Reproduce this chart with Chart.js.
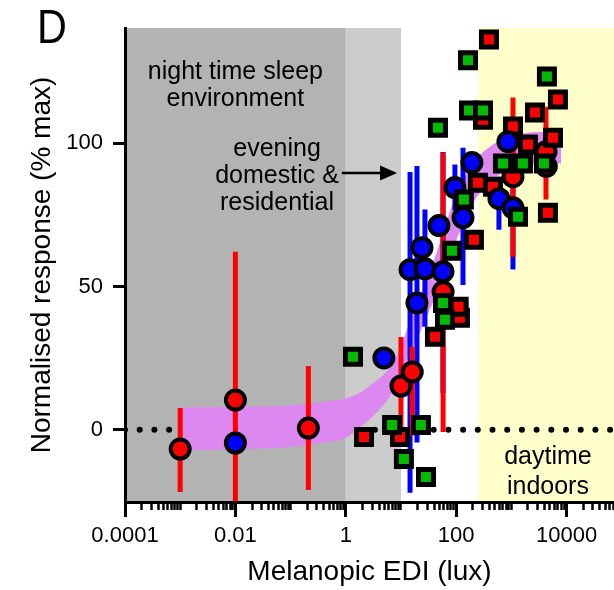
<!DOCTYPE html>
<html>
<head>
<meta charset="utf-8">
<script src="https://cdn.jsdelivr.net/npm/chart.js@4/dist/chart.umd.min.js"></script>
<style>
  html, body { margin: 0; padding: 0; background: #fff; }
  #wrap { width: 614px; height: 590px; }
</style>
</head>
<body>
<div id="wrap"><canvas id="chart" width="614" height="590"></canvas></div>
<script>
// ---- axes ----
const xTickValues = [1e-4, 1e-2, 1, 1e2, 1e4];
const xTickLabels = ['0.0001', '0.01', '1', '100', '10000'];
const xDecades = [-4, -3, -2, -1, 0, 1, 2, 3, 4];
const xMinorSteps = [1, 2, 3, 4, 5, 6, 7, 8, 9];
const yTickValues = [0, 50, 100];
const xRange = [1e-4, 72400];
const yRange = [-25.2, 140.3];

// ---- lighting environments (lux) ----
const envStart = [1e-4, 1, 250];
const envEnd = [1, 10, 72400];
const envLabels = [
  ['night time sleep', 'environment'],
  ['evening', 'domestic &', 'residential'],
  ['daytime', 'indoors']
];

// ---- fitted response with confidence band ----
const bandX     = [0.001, 0.01, 0.1, 0.3, 1, 2, 3, 5, 7, 10, 15, 20, 30, 50, 70, 100, 200, 500, 1000, 3000, 8000];
const bandUpper = [7.8, 8.0, 8.5, 9.5, 11, 13.5, 16, 19.5, 23, 29, 39, 45, 53, 65, 74, 82, 93, 100, 102.5, 104, 104];
const bandLower = [-7.2, -6.8, -6, -4.8, -2.8, 1.5, 4.5, 9, 13, 19.7, 27, 32, 40, 50, 58, 66, 79, 88, 91, 93, 93];

// ---- studies: circles with error bars ----
const redCircleX  = [0.001, 0.01, 0.21, 10, 16, 58, 1070, 4240, 4300];
const redCircleY  = [-6.7, 10.4, 0.6, 15.3, 20.2, 48.2, 88.4, 97.1, 92];
const redCircleLo = [-21.7, -25, -21, 0.6, -2, -0.8, 60.4, 80.4, null];
const redCircleHi = [7.6, 62.2, 22.3, 32.4, 29, 96.8, 116, 112.8, null];

const blueCircleX  = [0.01, 4.9, 14.6, 19.5, 24, 27.2, 48.8, 57.7, 95, 133, 193, 596, 867, 1070];
const blueCircleY  = [-4.6, 25.1, 55.9, 44.3, 63.6, 56.2, 71.3, 55.2, 84.6, 74.1, 93.3, 80.7, 100.6, 77.5];
const blueCircleLo = [null, null, -22, -4.4, null, 36, null, 12.9, 76.6, 50.6, null, 69.9, null, 56];
const blueCircleHi = [null, null, 90, 92.1, null, 76.9, null, 97, 92.6, 98.5, null, 88.4, null, 99];

// ---- studies: squares ----
const greenSquareX = [1.35, 6.9, 23, 11.3, 28.4, 57.7, 62.7, 84, 138, 46.8, 171, 306, 164, 4410, 705, 1620, 3890, 1320];
const greenSquareY = [25.5, 1.7, 1.7, -10.2, -16.5, 44.3, 38.4, 62.5, 80.4, 105.5, 111.5, 111.5, 129, 123.4, 93, 93, 93, 74.4];

const redSquareX = [2.14, 9.6, 41.3, 117, 111, 210, 248, 464, 1070, 393, 6980, 2680, 5680, 2000, 4600, 306];
const redSquareY = [-2.5, -2.5, 32.5, 39.1, 43, 66.4, 86.3, 84.9, 105.9, 136.3, 115.3, 110.8, 102, 99.6, 75.8, 108.3];

// ---- styling ----
const FONT = "'Liberation Sans', Arial, Helvetica, sans-serif";
const envFill = ['#b3b3b3', '#cccccc', '#ffffcc'];
const RED = '#ff0000', BLUE = '#0000ff', GREEN = '#00bb00', BAND = '#dc88f0';

// label anchors in data units
const envLabelAnchor = [
  { x: 0.01,   y: [124.9, 115.5] },
  { x: 0.0568, y: [97.9, 88.6, 79.2] },
  { x: 4600,   y: [-9.5, -20.0] }
];
const arrowFrom = { x: 0.85, y: 89.7 };
const arrowTo   = { x: 8.5,  y: 89.7 };

// ---- helpers ----
const toPoints = (xs, ys) => xs.map((v, i) => ({ x: v, y: ys[i] }));
const toBars = (xs, lo, hi) => xs.flatMap((v, i) =>
  lo[i] == null ? [] : [{ x: v, y: lo[i] }, { x: v, y: hi[i] }, { x: v, y: null }]);
const minorTicks = xDecades.flatMap(d => xMinorSteps.map(m => m * Math.pow(10, d)))
  .filter(v => v <= xRange[1] && !xTickValues.some(t => Math.abs(t - v) / t < 1e-9));

// the plot runs right to the canvas edge, so no room is reserved for edge labels
const noEdgePadding = s => { s.paddingLeft = 0; s.paddingRight = 0; };

// shaded lighting environments behind everything
const backdrop = {
  id: 'backdrop',
  beforeDraw(chart) {
    const { ctx, chartArea: a, scales: { x } } = chart;
    ctx.save();
    ctx.fillStyle = '#ffffff';
    ctx.fillRect(0, 0, chart.width, chart.height);
    envStart.forEach((s, i) => {
      const x0 = Math.max(a.left, x.getPixelForValue(s));
      const x1 = Math.min(a.right, x.getPixelForValue(envEnd[i]));
      ctx.fillStyle = envFill[i];
      ctx.fillRect(x0, a.top, x1 - x0, a.bottom - a.top);
    });
    ctx.restore();
  }
};

// environment captions, arrow and panel letter
const notes = {
  id: 'notes',
  afterDatasetsDraw(chart) {
    const { ctx, scales: { x, y } } = chart;
    ctx.save();
    ctx.fillStyle = '#000';
    ctx.font = '25px ' + FONT;
    ctx.textAlign = 'center';
    ctx.textBaseline = 'middle';
    envLabels.forEach((lines, i) => {
      const anchor = envLabelAnchor[i];
      lines.forEach((t, j) => ctx.fillText(t, x.getPixelForValue(anchor.x), y.getPixelForValue(anchor.y[j])));
    });
    const ax0 = x.getPixelForValue(arrowFrom.x), ay = y.getPixelForValue(arrowFrom.y);
    const ax1 = x.getPixelForValue(arrowTo.x);
    const head = 17;
    ctx.strokeStyle = '#000';
    ctx.lineWidth = 2.5;
    ctx.beginPath();
    ctx.moveTo(ax0, ay);
    ctx.lineTo(ax1 - head + 2, ay);
    ctx.stroke();
    ctx.beginPath();
    ctx.moveTo(ax1, ay);
    ctx.lineTo(ax1 - head, ay - 7.5);
    ctx.lineTo(ax1 - head, ay + 7.5);
    ctx.closePath();
    ctx.fill();
    // panel letter, set in a slightly condensed cut
    ctx.translate(37, 43);
    ctx.scale(0.86, 1);
    ctx.font = '48px ' + FONT;
    ctx.textAlign = 'left';
    ctx.textBaseline = 'alphabetic';
    ctx.fillText('D', 0, 0);
    ctx.restore();
  }
};

const markerCommon = { showLine: false, pointBorderColor: '#000' };

new Chart(document.getElementById('chart'), {
  type: 'line',
  data: {
    datasets: [
      Object.assign({ label: 'green squares', data: toPoints(greenSquareX, greenSquareY), order: 1,
        pointStyle: 'rect', pointRadius: 10.6, pointHoverRadius: 10.6, pointBorderWidth: 5,
        pointBackgroundColor: GREEN }, markerCommon),
      Object.assign({ label: 'blue circles', data: toPoints(blueCircleX, blueCircleY), order: 2,
        pointStyle: 'circle', pointRadius: 9.5, pointHoverRadius: 9.5, pointBorderWidth: 4,
        pointBackgroundColor: BLUE }, markerCommon),
      Object.assign({ label: 'red squares', data: toPoints(redSquareX, redSquareY), order: 3,
        pointStyle: 'rect', pointRadius: 10.6, pointHoverRadius: 10.6, pointBorderWidth: 5,
        pointBackgroundColor: RED }, markerCommon),
      Object.assign({ label: 'red circles', data: toPoints(redCircleX, redCircleY), order: 4,
        pointStyle: 'circle', pointRadius: 9.5, pointHoverRadius: 9.5, pointBorderWidth: 4,
        pointBackgroundColor: RED }, markerCommon),
      { label: 'red error', data: toBars(redCircleX, redCircleLo, redCircleHi), order: 5,
        borderColor: RED, borderWidth: 5, pointRadius: 0, spanGaps: false, borderCapStyle: 'butt' },
      { label: 'blue error', data: toBars(blueCircleX, blueCircleLo, blueCircleHi), order: 6,
        borderColor: BLUE, borderWidth: 5, pointRadius: 0, spanGaps: false, borderCapStyle: 'butt' },
      { label: 'band upper', data: toPoints(bandX, bandUpper), order: 7,
        borderColor: 'transparent', borderWidth: 0, pointRadius: 0, fill: '+1',
        backgroundColor: BAND, cubicInterpolationMode: 'monotone' },
      { label: 'band lower', data: toPoints(bandX, bandLower), order: 8,
        borderColor: 'transparent', borderWidth: 0, pointRadius: 0, fill: false,
        cubicInterpolationMode: 'monotone' },
      { label: 'zero', data: [{ x: xRange[0], y: 0 }, { x: xRange[1], y: 0 }], order: 9,
        borderColor: '#000', borderWidth: 6, borderDash: [0, 14.7], borderCapStyle: 'round',
        pointRadius: 0 }
    ]
  },
  options: {
    responsive: false,
    animation: false,
    devicePixelRatio: 1,
    layout: { autoPadding: false, padding: { top: 28, right: 0, bottom: 0, left: 0 } },
    plugins: { legend: { display: false }, tooltip: { enabled: false } },
    events: [],
    scales: {
      xMinor: {
        type: 'logarithmic', axis: 'x', position: 'bottom', weight: 0, bounds: 'data',
        min: xRange[0], max: xRange[1],
        afterBuildTicks: s => { s.ticks = minorTicks.map(v => ({ value: v })); },
        afterFit: s => { s.height = 0; noEdgePadding(s); },
        ticks: { display: false },
        grid: { drawOnChartArea: false, drawTicks: true, tickLength: 8, tickWidth: 2.5, tickColor: '#000' },
        border: { display: false }
      },
      x: {
        type: 'logarithmic', position: 'bottom', weight: 1, bounds: 'data',
        min: xRange[0], max: xRange[1],
        afterBuildTicks: s => { s.ticks = xTickValues.map(v => ({ value: v })); },
        afterFit: s => { s.height = 88; noEdgePadding(s); },
        ticks: { autoSkip: false, maxRotation: 0, padding: 6, color: '#000',
          font: { family: FONT, size: 22 },
          callback: (v, i) => xTickLabels[i] },
        grid: { drawOnChartArea: false, drawTicks: true, tickLength: 15, tickWidth: 3, tickColor: '#000' },
        border: { display: true, color: '#000', width: 3 },
        title: { display: true, text: 'Melanopic EDI (lux)', color: '#000',
          font: { family: FONT, size: 28 }, padding: { top: 0, bottom: 1 } }
      },
      y: {
        type: 'linear', position: 'left', bounds: 'data',
        min: yRange[0], max: yRange[1],
        afterBuildTicks: s => { s.ticks = yTickValues.map(v => ({ value: v })); },
        afterFit: s => { s.width = 125; s.paddingTop = 0; s.paddingBottom = 0; },
        ticks: { padding: 10, color: '#000', font: { family: FONT, size: 22 } },
        grid: { drawOnChartArea: false, drawTicks: true, tickLength: 12, tickWidth: 3, tickColor: '#000' },
        border: { display: true, color: '#000', width: 3 },
        title: { display: true, text: 'Normalised response (% max)', color: '#000',
          font: { family: FONT, size: 28 }, padding: { top: 25, bottom: 0 } }
      }
    }
  },
  plugins: [backdrop, notes]
});
</script>
</body>
</html>
